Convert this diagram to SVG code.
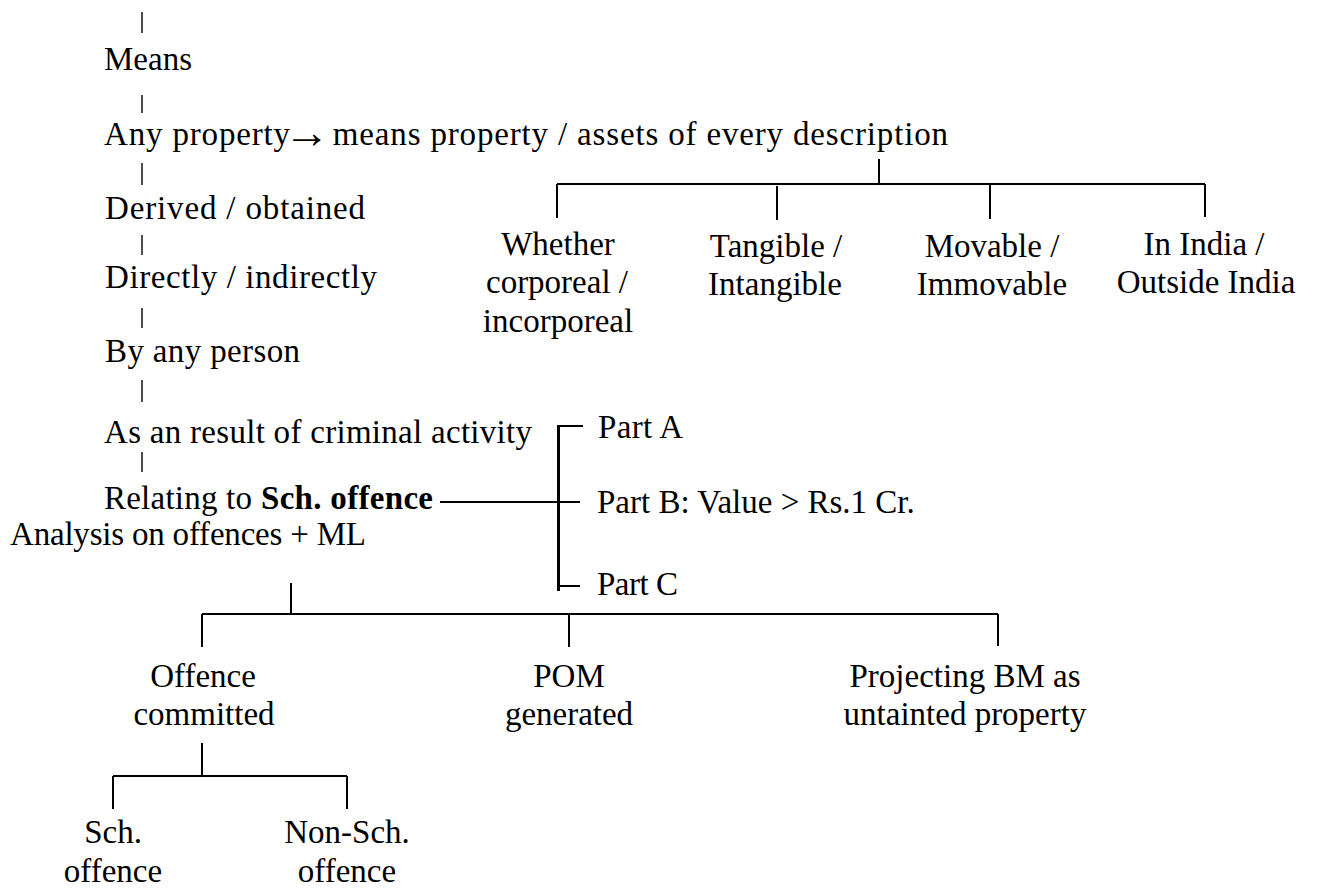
<svg xmlns="http://www.w3.org/2000/svg" width="1317" height="890" viewBox="0 0 1317 890">
  <style>
    text { font-family: "Liberation Serif", "Times New Roman", serif; font-size: 33px; fill: #000; }
    .c { text-anchor: middle; }
    .b { font-weight: bold; }
    .arrow { font-size: 46px; }
    .ln { stroke: #000; stroke-width: 2; fill: none; }
    .thin { stroke: #000; stroke-width: 1.4; fill: none; }
    .thick { stroke: #000; stroke-width: 3; fill: none; }
  </style>
  <rect width="1317" height="890" fill="#fff"/>

  <!-- connectors -->
  <g id="connectors">
    <!-- vertical chain down the left column -->
    <line class="thin" x1="142" y1="12" x2="142" y2="33"/>
    <line class="thin" x1="142" y1="95" x2="142" y2="113"/>
    <line class="thin" x1="142" y1="163" x2="142" y2="185"/>
    <line class="thin" x1="142" y1="235" x2="142" y2="255"/>
    <line class="thin" x1="142" y1="308" x2="142" y2="328"/>
    <line class="thin" x1="142" y1="380" x2="142" y2="402"/>
    <line class="thin" x1="142" y1="452" x2="142" y2="472"/>

    <!-- property description branches -->
    <line class="ln" x1="879" y1="159" x2="879" y2="184"/>
    <line class="ln" x1="557" y1="184" x2="1205" y2="184"/>
    <line class="ln" x1="557" y1="184" x2="557" y2="218"/>
    <line class="ln" x1="777" y1="186" x2="777" y2="220"/>
    <line class="ln" x1="990" y1="184" x2="990" y2="219"/>
    <line class="ln" x1="1205" y1="184" x2="1205" y2="217"/>

    <!-- scheduled offence bracket -->
    <line class="ln" x1="440" y1="502" x2="580" y2="502"/>
    <line class="thick" x1="558.5" y1="425" x2="558.5" y2="591"/>
    <line class="ln" x1="558" y1="426" x2="583" y2="426"/>
    <line class="ln" x1="558" y1="586" x2="580" y2="586"/>

    <!-- offences + ML branches -->
    <line class="ln" x1="291" y1="583" x2="291" y2="614"/>
    <line class="ln" x1="202" y1="614" x2="998" y2="614"/>
    <line class="ln" x1="202" y1="614" x2="202" y2="647"/>
    <line class="ln" x1="569" y1="614" x2="569" y2="647"/>
    <line class="ln" x1="998" y1="614" x2="998" y2="646"/>

    <!-- offence committed branches -->
    <line class="ln" x1="202" y1="743" x2="202" y2="776"/>
    <line class="ln" x1="113" y1="776" x2="347" y2="776"/>
    <line class="ln" x1="113" y1="776" x2="113" y2="809"/>
    <line class="ln" x1="347" y1="776" x2="347" y2="809"/>
  </g>

  <!-- left column -->
  <g id="means"><text x="104" y="70" textLength="88">Means</text></g>
  <g id="any-property"><text x="104" y="145" textLength="844">Any property<tspan class="arrow" dx="-7" dy="3">→</tspan><tspan dx="-7" dy="-3"> means property / assets of every description</tspan></text></g>
  <g id="derived"><text x="105" y="219" textLength="260">Derived / obtained</text></g>
  <g id="directly"><text x="105" y="288" textLength="272">Directly / indirectly</text></g>
  <g id="by-any-person"><text x="105" y="362" textLength="195">By any person</text></g>
  <g id="criminal-activity"><text x="104" y="443" textLength="428">As an result of criminal activity</text></g>
  <g id="relating">
    <text x="104" y="509" textLength="148">Relating to</text>
    <text class="b" x="261" y="509" textLength="172">Sch. offence</text>
  </g>
  <g id="analysis"><text x="10" y="545" textLength="356">Analysis on offences + ML</text></g>

  <!-- property kinds -->
  <g id="corporeal">
    <text class="c" x="558" y="255">Whether</text>
    <text class="c" x="557" y="293">corporeal /</text>
    <text class="c" x="558" y="332">incorporeal</text>
  </g>
  <g id="tangible">
    <text class="c" x="776" y="257">Tangible /</text>
    <text class="c" x="775" y="295">Intangible</text>
  </g>
  <g id="movable">
    <text class="c" x="992" y="257">Movable /</text>
    <text class="c" x="992" y="295">Immovable</text>
  </g>
  <g id="india">
    <text class="c" x="1204" y="255">In India /</text>
    <text class="c" x="1206" y="293">Outside India</text>
  </g>

  <!-- schedule parts -->
  <g id="part-a"><text x="598" y="438" textLength="85">Part A</text></g>
  <g id="part-b"><text x="597" y="513">Part B: Value &gt; Rs.1 Cr.</text></g>
  <g id="part-c"><text x="597" y="595" textLength="81">Part C</text></g>

  <!-- offences + ML -->
  <g id="offence-committed">
    <text class="c" x="203" y="687">Offence</text>
    <text class="c" x="204" y="725">committed</text>
  </g>
  <g id="pom">
    <text class="c" x="569" y="687">POM</text>
    <text class="c" x="569" y="725">generated</text>
  </g>
  <g id="projecting">
    <text class="c" x="965" y="687">Projecting BM as</text>
    <text class="c" x="965" y="725">untainted property</text>
  </g>

  <!-- offence types -->
  <g id="sch-offence">
    <text class="c" x="113" y="843">Sch.</text>
    <text class="c" x="113" y="882">offence</text>
  </g>
  <g id="non-sch-offence">
    <text class="c" x="347" y="843">Non-Sch.</text>
    <text class="c" x="347" y="882">offence</text>
  </g>
</svg>
